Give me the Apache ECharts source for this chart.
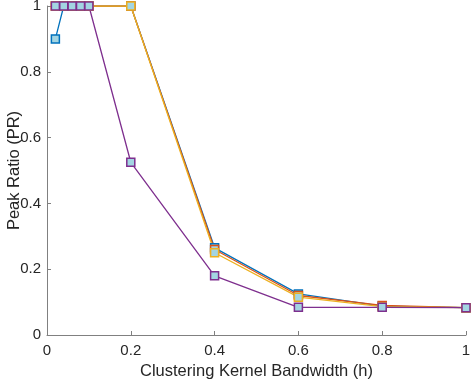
<!DOCTYPE html>
<html>
<head>
    <meta charset="utf-8" />
    <title>Peak Ratio</title>
    <script src="https://cdn.jsdelivr.net/npm/echarts@6.0.0/dist/echarts.min.js"></script>
    <style>
        html, body { margin: 0; padding: 0; background: #fff; }
    </style>
</head>
<body>
    <div id="main" style="width: 471px;height: 382px;"></div>
    <script type="text/javascript">
        // bandwidth values on the x axis
        var bandwidth = [0.02, 0.04, 0.06, 0.08, 0.1, 0.2, 0.4, 0.6, 0.8, 1.0];
        // peak ratio per run
        var blueRun = [0.9, 1, 1, 1, 1, 1, 0.265, 0.125, 0.088, 0.083];
        var redRun = [1, 1, 1, 1, 1, 1, 0.26, 0.12, 0.09, 0.083];
        var yellowRun = [1, 1, 1, 1, 1, 1, 0.25, 0.115, 0.086, 0.083];
        var purpleRun = [1, 1, 1, 1, 1, 0.525, 0.18, 0.084, 0.084, 0.083];
        var xTicks = [0, 0.2, 0.4, 0.6, 0.8, 1];
        var yTicks = [0, 0.2, 0.4, 0.6, 0.8, 1];

        var myChart = echarts.init(document.getElementById('main'));

        function mkSeries(name, vals, color) {
            return {
                name: name,
                type: 'line',
                data: bandwidth.map((x, i) => [x, vals[i]]),
                symbol: 'rect',
                symbolSize: 8,
                showAllSymbol: true,
                lineStyle: { color: color, width: 1.3 },
                itemStyle: { color: '#a3d5e2', borderColor: color, borderWidth: 1.5 }
            };
        }

        var tickText = { color: '#262626', fontSize: 15, fontFamily: 'Liberation Sans, Arial, sans-serif' };
        var nameText = { color: '#262626', fontSize: 16.5, fontFamily: 'Liberation Sans, Arial, sans-serif' };

        var option = {
            animation: false,
            grid: { left: 47, right: 5, top: 6, bottom: 47, outerBoundsMode: 'none' },
            xAxis: {
                type: 'value',
                min: 0, max: 1, interval: 0.2,
                name: 'Clustering Kernel Bandwidth (h)',
                nameLocation: 'middle',
                nameGap: 28,
                nameMoveOverlap: false,
                nameTextStyle: nameText,
                axisLine: { lineStyle: { color: '#808080' } },
                axisTick: { inside: true, length: 4, lineStyle: { color: '#808080' } },
                axisLabel: Object.assign({ margin: 8, formatter: v => xTicks.indexOf(v) >= 0 ? String(v) : '' }, tickText),
                splitLine: { show: false }
            },
            yAxis: {
                type: 'value',
                min: 0, max: 1, interval: 0.2,
                name: 'Peak Ratio (PR)',
                nameLocation: 'middle',
                nameGap: 24,
                nameMoveOverlap: false,
                nameTextStyle: nameText,
                axisLine: { show: true, lineStyle: { color: '#808080' } },
                axisTick: { show: true, inside: true, length: 4, lineStyle: { color: '#808080' } },
                axisLabel: Object.assign({ margin: 6, formatter: v => yTicks.indexOf(v) >= 0 ? String(v) : '' }, tickText),
                splitLine: { show: false }
            },
            series: [
                mkSeries('run1', blueRun, '#0072BD'),
                mkSeries('run2', redRun, '#D95319'),
                mkSeries('run3', yellowRun, '#EDB120'),
                mkSeries('run4', purpleRun, '#7E2F8E')
            ]
        };

        myChart.setOption(option);
    </script>
</body>
</html>
